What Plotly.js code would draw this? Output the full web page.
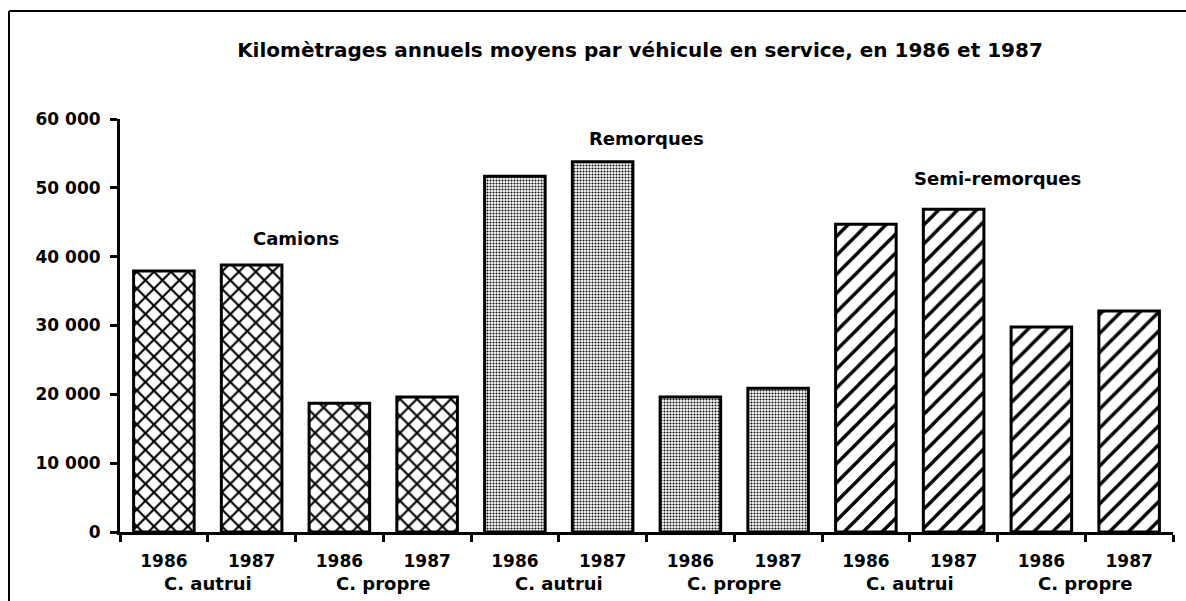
<!DOCTYPE html>
<html>
<head>
<meta charset="utf-8">
<script src="https://cdn.plot.ly/plotly-3.0.1.min.js"></script>
<style>
  html, body { margin: 0; padding: 0; background: #fff; }
  #chart { width: 1186px; height: 601px; }
</style>
</head>
<body>
<div id="chart"></div>
<script>
// ---- data ----
const titleText = "Kilomètrages annuels moyens par véhicule en service, en 1986 et 1987";
const vehicleTypes = ["Camions", "Remorques", "Semi-remorques"];
const carriers = ["C. autrui", "C. propre"];
const years = ["1986", "1987"];
const camions = [37900, 38800, 18700, 19600];
const remorques = [51700, 53800, 19600, 20900];
const semiRemorques = [44700, 46900, 29800, 32100];
const yTicks = [0, 10000, 20000, 30000, 40000, 50000, 60000];

const seriesValues = [camions, remorques, semiRemorques];
const patternShapes = ["x", ".", "/"];

// category ids (unique) and tick texts
function catsFor(vt) {
  const out = [];
  carriers.forEach(c => years.forEach(y => out.push(vt + " | " + c + " | " + y)));
  return out;
}
const allCats = [];
const allTickText = [];
vehicleTypes.forEach(vt => {
  catsFor(vt).forEach((c, i) => { allCats.push(c); allTickText.push(years[i % 2]); });
});

const patternCfg = {
  "x": { shape: "x", size: 12, solidity: 0.32, fgcolor: "#000", bgcolor: "#fff", fillmode: "replace" },
  ".": { shape: ".", size: 3, solidity: 0.4, fgcolor: "#111", bgcolor: "#fff", fillmode: "replace" },
  "/": { shape: "/", size: 13.4, solidity: 0.25, fgcolor: "#000", bgcolor: "#fff", fillmode: "replace" }
};

const traces = vehicleTypes.map((vt, k) => ({
  type: "bar",
  name: vt,
  x: catsFor(vt),
  y: seriesValues[k],
  marker: {
    color: "#fff",
    line: { color: "#000", width: 3 },
    pattern: patternCfg[patternShapes[k]]
  },
  hoverinfo: "x+y"
}));

// annotations: vehicle type labels over bars, carrier labels under axis
const typeLabelPos = [
  { x: 1.5, y: 42700 },
  { x: 5.5, y: 57200 },
  { x: 9.5, y: 51400 }
];
const annotations = [];
vehicleTypes.forEach((vt, k) => {
  annotations.push({
    text: vt, x: typeLabelPos[k].x, y: typeLabelPos[k].y, xref: "x", yref: "y",
    showarrow: false, xanchor: "center", yanchor: "middle",
    font: { family: "DejaVu Sans", size: 18, color: "#000", weight: "bold" }
  });
});
for (let g = 0; g < vehicleTypes.length * carriers.length; g++) {
  annotations.push({
    text: carriers[g % 2], x: 2 * g + 0.5, y: -0.125, xref: "x", yref: "paper",
    showarrow: false, xanchor: "center", yanchor: "middle",
    font: { family: "DejaVu Sans", size: 18, color: "#000", weight: "bold" }
  });
}

const layout = {
  width: 1186, height: 601,
  margin: { l: 120, r: 13, t: 119, b: 69 },
  paper_bgcolor: "#fff", plot_bgcolor: "#fff",
  showlegend: false,
  barmode: "overlay",
  bargap: 0.31,
  separators: ", ",
  title: {
    text: titleText,
    xref: "container", yref: "container",
    x: 640 / 1186, y: 1 - 50 / 601, xanchor: "center", yanchor: "middle",
    font: { family: "DejaVu Sans", size: 20, color: "#000", weight: "bold" }
  },
  xaxis: {
    type: "category",
    categoryorder: "array", categoryarray: allCats,
    tickvals: allCats, ticktext: allTickText,
    tickson: "boundaries",
    ticks: "outside", ticklen: 7, tickwidth: 3, tickcolor: "#000",
    showline: true, linecolor: "#000", linewidth: 3,
    showgrid: false, zeroline: false,
    ticklabelstandoff: 12,
    tickfont: { family: "DejaVu Sans", size: 17, color: "#000", weight: "bold" },
    fixedrange: true
  },
  yaxis: {
    range: [0, 60000],
    tickvals: yTicks,
    tickformat: ",d",
    ticks: "outside", ticklen: 7, tickwidth: 3, tickcolor: "#000",
    showline: true, linecolor: "#000", linewidth: 3,
    showgrid: false, zeroline: false,
    ticklabelstandoff: 6,
    tickfont: { family: "DejaVu Sans", size: 17, color: "#000", weight: "bold" },
    fixedrange: true
  },
  annotations: annotations,
  shapes: [
    { type: "line", xref: "paper", yref: "paper",
      x0: (9 - 120) / 1053, x1: (9 - 120) / 1053, y0: (532 - 11) / 413, y1: (532 - 601) / 413,
      line: { color: "#000", width: 2 } },
    { type: "line", xref: "paper", yref: "paper",
      x0: (9 - 120) / 1053, x1: (1186 - 120) / 1053, y0: (532 - 11) / 413, y1: (532 - 11) / 413,
      line: { color: "#000", width: 2 } }
  ]
};

Plotly.newPlot("chart", traces, layout, { displayModeBar: false, staticPlot: true });
</script>
</body>
</html>
